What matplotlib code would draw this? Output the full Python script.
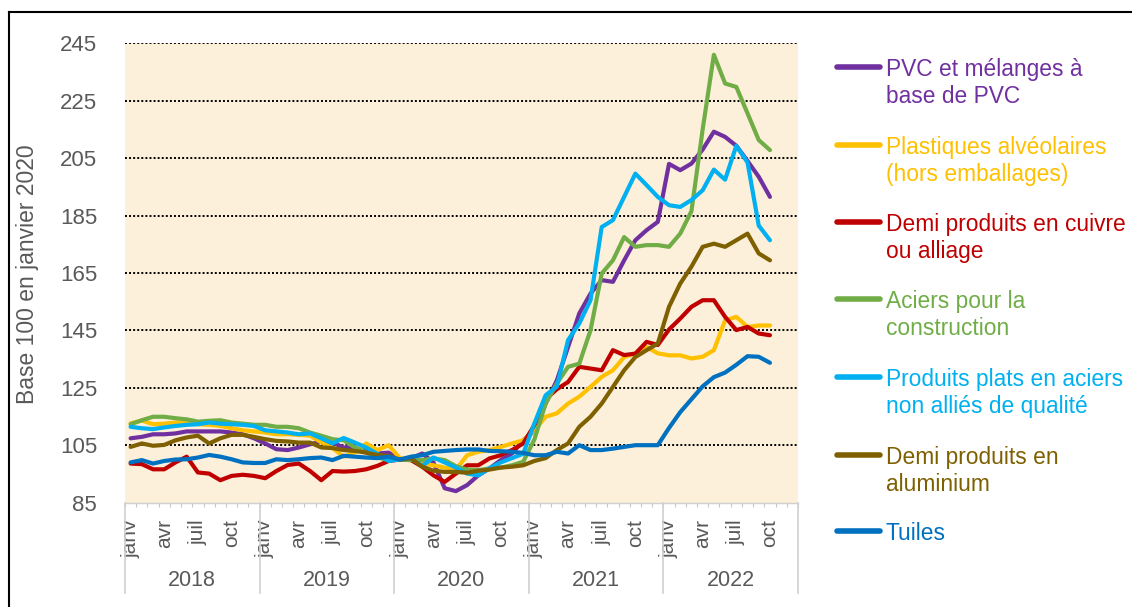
import numpy as np
import matplotlib
matplotlib.use("Agg")
import matplotlib.pyplot as plt
from matplotlib.lines import Line2D
import matplotlib.transforms as mtransforms

plt.rcParams['font.family'] = ['Liberation Sans', 'DejaVu Sans']

# ---------------- data ----------------
years = ["2018", "2019", "2020", "2021", "2022"]
month_labels = ["janv", "avr", "juil", "oct"]
n_months = 60  # janv 2018 .. dec 2022 (data up to oct 2022)

pvc = [107.4, 107.9, 108.8, 108.8, 109.1, 109.8, 109.8, 109.8, 109.8, 109.4, 108.8, 107.4,
       105.6, 103.6, 103.3, 104.2, 105.3, 106.3, 105.9, 104.2, 104.0, 103.0, 102.1, 102.4,
       100.0, 100.4, 102.1, 99.0, 90.0, 89.0, 91.1, 94.5, 96.9, 99.8, 102.1, 106.7,
       110.0, 119.5, 127.6, 139.2, 150.9, 157.8, 162.5, 161.9, 169.4, 176.4, 179.9, 182.8,
       203.0, 200.8, 203.1, 208.0, 214.2, 212.4, 209.3, 204.0, 198.5, 191.5]
plastiques = [112.6, 113.6, 112.3, 112.5, 112.9, 113.2, 112.3, 112.1, 111.7, 110.9, 110.2, 109.8,
              109.4, 108.8, 108.8, 108.6, 108.3, 106.0, 104.0, 101.0, 102.5, 105.6, 103.3, 105.0,
              100.5, 99.8, 98.6, 98.0, 97.2, 96.5, 101.5, 102.7, 103.3, 104.4, 105.6, 106.7,
              110.2, 114.9, 116.1, 119.5, 121.9, 125.3, 128.8, 131.1, 135.7, 136.9, 139.2, 137.0,
              136.3, 136.3, 135.2, 135.8, 138.1, 148.5, 149.7, 146.2, 146.7, 146.7]
cuivre = [98.6, 98.4, 96.6, 96.6, 99.0, 101.0, 95.5, 95.1, 92.8, 94.3, 94.7, 94.3,
          93.5, 96.0, 98.1, 98.6, 96.0, 92.8, 96.0, 95.8, 96.0, 96.6, 97.8, 99.5,
          100.0, 99.8, 97.5, 94.5, 92.2, 95.1, 98.0, 98.0, 100.4, 101.5, 103.3, 105.6,
          112.0, 121.0, 124.5, 127.0, 132.3, 131.7, 131.1, 138.1, 136.4, 136.9, 141.0, 139.9,
          145.3, 149.1, 153.2, 155.5, 155.5, 149.7, 145.1, 146.2, 143.9, 143.3]
aciers = [112.3, 113.7, 114.9, 114.9, 114.4, 114.0, 113.2, 113.5, 113.7, 112.9, 112.5, 112.1,
          112.1, 111.4, 111.4, 110.9, 109.4, 108.3, 107.1, 106.7, 104.2, 102.4, 100.7, 99.8,
          100.0, 99.8, 99.8, 100.4, 99.8, 97.7, 96.5, 96.3, 96.9, 97.2, 98.0, 99.2,
          107.0, 119.5, 126.5, 132.3, 133.4, 145.0, 164.8, 169.4, 177.5, 174.1, 174.7, 174.7,
          174.1, 178.7, 186.5, 215.0, 241.0, 231.0, 229.8, 220.6, 211.3, 207.8]
plats = [111.4, 110.9, 110.6, 111.2, 111.7, 112.1, 112.3, 112.9, 112.5, 112.3, 112.1, 111.7,
         110.2, 109.8, 109.4, 108.8, 109.1, 107.4, 105.6, 107.5, 105.9, 104.2, 102.0, 99.5,
         100.0, 100.4, 97.8, 100.7, 99.0, 97.2, 95.1, 94.5, 97.0, 99.0, 100.5, 102.0,
         112.6, 122.4, 125.4, 141.6, 147.4, 155.5, 181.0, 183.4, 191.5, 199.6, 195.6, 191.5,
         188.6, 188.0, 190.4, 193.8, 201.0, 197.5, 209.3, 203.5, 181.5, 176.4]
aluminium = [104.4, 105.6, 104.8, 105.1, 106.7, 107.7, 108.3, 105.6, 107.4, 108.6, 108.6, 107.9,
             107.1, 106.5, 106.3, 105.9, 105.9, 104.2, 104.0, 103.3, 103.0, 102.4, 101.6, 101.3,
             100.0, 100.4, 97.5, 96.1, 95.7, 95.7, 95.4, 96.1, 96.5, 97.2, 97.5, 98.0,
             99.5, 100.5, 103.3, 105.6, 111.4, 114.9, 119.5, 125.3, 131.1, 135.7, 138.1, 140.4,
             153.2, 161.3, 167.2, 174.1, 175.2, 174.1, 176.4, 178.7, 171.8, 169.4]
tuiles = [99.0, 99.8, 98.6, 99.5, 100.0, 100.1, 100.7, 101.6, 101.0, 100.1, 99.0, 98.8,
          98.8, 100.1, 99.8, 100.1, 100.5, 100.7, 99.8, 101.3, 101.0, 100.7, 100.5, 101.0,
          100.0, 101.0, 101.5, 102.7, 103.0, 103.3, 103.5, 103.5, 103.0, 102.9, 102.7, 102.3,
          101.5, 101.5, 102.7, 102.1, 105.0, 103.3, 103.3, 103.8, 104.4, 105.0, 105.0, 105.0,
          111.0, 116.5, 121.0, 125.5, 128.7, 130.3, 133.0, 136.0, 135.8, 133.7]

series = [
    (["PVC et mélanges à", "base de PVC"], pvc, "#7030A0"),
    (["Plastiques alvéolaires", "(hors emballages)"], plastiques, "#FFC000"),
    (["Demi produits en cuivre", "ou alliage"], cuivre, "#C00000"),
    (["Aciers pour la", "construction"], aciers, "#70AD47"),
    (["Produits plats en aciers", "non alliés de qualité"], plats, "#00B0F0"),
    (["Demi produits en", "aluminium"], aluminium, "#7F6000"),
    (["Tuiles"], tuiles, "#0070C0"),
]

yticks = [85, 105, 125, 145, 165, 185, 205, 225, 245]

# ---------------- figure ----------------
W, H = 1132, 607
fig = plt.figure(figsize=(W / 100, H / 100), dpi=100)
fig.patch.set_facecolor("white")

L, R, T, B = 125, 798, 43.3, 502.6
ax = fig.add_axes([L / W, 1 - B / H, (R - L) / W, (B - T) / H])
ax.set_facecolor("#FCF0DA")

# grid lines (dotted)
for v in yticks[1:]:
    ax.axhline(v, color="black", lw=1.4, ls=(0, (1, 1.1)), zorder=1)

for labels, vals, col in series:
    ax.plot(np.arange(len(vals)), vals, color=col, lw=3.0, solid_joinstyle="round",
            solid_capstyle="round", zorder=3)

ax.set_xlim(-0.5, n_months - 0.5)
ax.set_ylim(85, 245)
ax.set_yticks(yticks)
ax.set_yticklabels([str(v) for v in yticks], fontsize=16, color="#595959")
ax.tick_params(axis="y", length=0, pad=20)

for s in ["left", "right", "top"]:
    ax.spines[s].set_visible(False)
ax.spines["bottom"].set_color("#D0D0D0")
ax.spines["bottom"].set_linewidth(1.0)

# month ticks and labels
major_pos = [12 * y + m for y in range(len(years)) for m in (0, 3, 6, 9)]
ax.set_xticks(major_pos)
ax.set_xticklabels(month_labels * len(years), rotation=90, fontsize=15, color="#595959",
                   va="top", ha="center")
ax.tick_params(axis="x", which="major", length=0, pad=12)
ax.set_xticks(np.arange(-0.5, n_months, 1), minor=True)
ax.tick_params(axis="x", which="minor", length=3, color="#C8C8C8", width=0.8)

# year separators and labels
trans = mtransforms.blended_transform_factory(ax.transData, ax.transAxes)
ybot = -(593 - B) / (B - T)
for k in range(len(years) + 1):
    xb = 12 * k - 0.5
    ax.plot([xb, xb], [0, ybot], color="#D0D0D0", lw=1.2, transform=trans, clip_on=False)
for k, yr in enumerate(years):
    ax.text(12 * k + 5.5, -(580 - B) / (B - T), yr, transform=trans, ha="center",
            va="center", fontsize=15.5, color="#595959")

# y label
fig.text(28 / W, 1 - 274 / H, "Base 100 en janvier 2020", rotation=90, ha="center",
         va="center", fontsize=16.5, color="#595959")

# legend (manual)
first_y = [67, 145, 222, 299, 377, 455, 531]
for (labels, vals, col), yc in zip(series, first_y):
    fig.add_artist(Line2D([837 / W, 880 / W], [1 - yc / H, 1 - yc / H], color=col, lw=4,
                          solid_capstyle="round"))
    for j, line in enumerate(labels):
        fig.text(886 / W, 1 - (yc + 27 * j) / H, line, ha="left", va="center_baseline",
                 fontsize=16.4, color=col)

# outer frame (left and top edges)
fig.add_artist(Line2D([9 / W, 9 / W], [0, 1 - 12 / H], color="black", lw=1.5))
fig.add_artist(Line2D([9 / W, 1], [1 - 12 / H, 1 - 12 / H], color="black", lw=1.5))

fig.savefig("out.png", dpi=100)
